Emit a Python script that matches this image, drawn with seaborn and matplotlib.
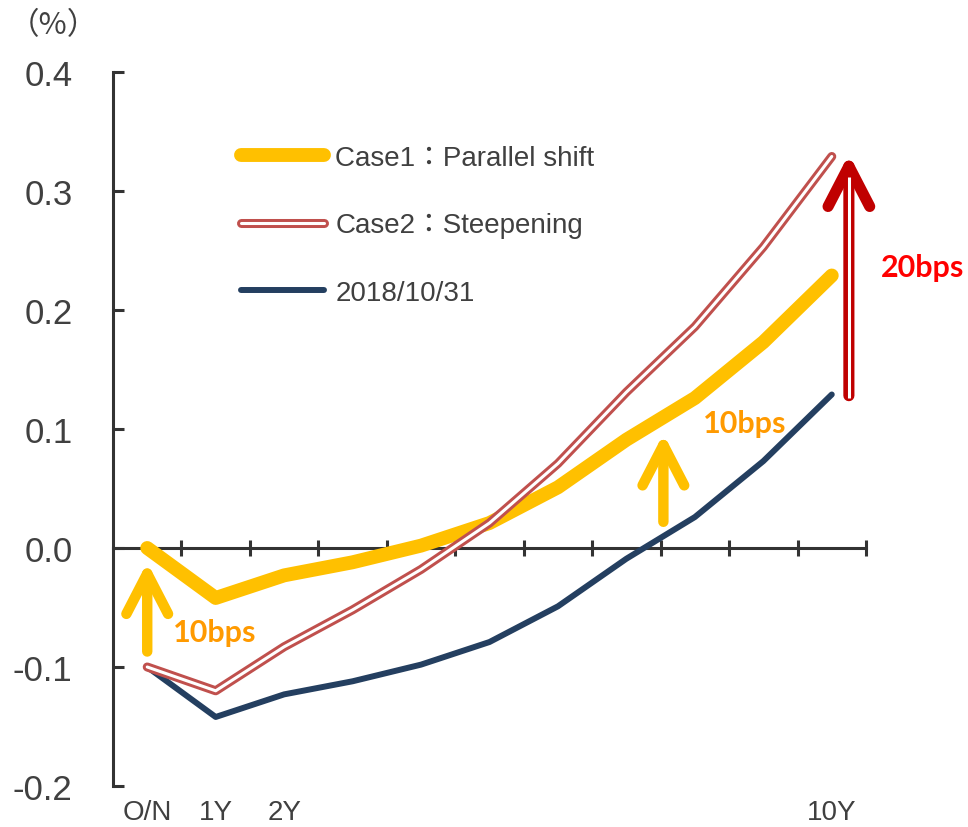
import numpy as np
import pandas as pd
import matplotlib.pyplot as plt
import seaborn as sns
from matplotlib.lines import Line2D
from matplotlib.legend_handler import HandlerTuple
from matplotlib import transforms

# Yield curve data (%)
tenors = ["O/N", "1Y", "2Y", "3Y", "4Y", "5Y", "6Y", "7Y", "8Y", "9Y", "10Y"]
shown_labels = ["O/N", "1Y", "2Y", "10Y"]
base_2018 = [-0.100, -0.142, -0.123, -0.112, -0.098, -0.079, -0.049, -0.009, 0.026, 0.073, 0.129]
case1_parallel = [0.000, -0.042, -0.023, -0.012, 0.002, 0.021, 0.051, 0.091, 0.126, 0.173, 0.229]
case2_steep = [-0.100, -0.120, -0.083, -0.052, -0.018, 0.021, 0.071, 0.131, 0.186, 0.253, 0.329]
ytick_values = [-0.2, -0.1, 0.0, 0.1, 0.2, 0.3, 0.4]

df = pd.DataFrame({"tenor": tenors, "pos": np.arange(len(tenors)),
                   "base": base_2018, "case1": case1_parallel, "case2": case2_steep})

sns.set_style("white")
plt.rcParams["font.family"] = ["Liberation Sans", "Noto Sans CJK JP"]

YELLOW = "#FFC000"
RED_LINE = "#C0504D"
NAVY = "#243F60"
AXIS = "#333333"
TEXT = "#404040"

fig = plt.figure(figsize=(9.68, 8.28), dpi=100)
ax = fig.add_axes([113 / 968, 1 - 787 / 828, 753 / 968, 714 / 828])

# series
sns.lineplot(data=df, x="pos", y="base", ax=ax, color=NAVY, lw=4.3, zorder=3,
             solid_capstyle="round", solid_joinstyle="round")
sns.lineplot(data=df, x="pos", y="case1", ax=ax, color=YELLOW, lw=10, zorder=4,
             solid_capstyle="round", solid_joinstyle="round")
sns.lineplot(data=df, x="pos", y="case2", ax=ax, color=RED_LINE, lw=6.5, zorder=5,
             solid_capstyle="round", solid_joinstyle="round")
sns.lineplot(data=df, x="pos", y="case2", ax=ax, color="white", lw=2.2, zorder=6,
             solid_capstyle="round", solid_joinstyle="round")

# axes styling
ax.set_xlim(-0.5, 10.5)
ax.set_ylim(-0.2, 0.4)
ax.set_xlabel("")
ax.set_ylabel("")
for s in ["top", "right"]:
    ax.spines[s].set_visible(False)
ax.spines["bottom"].set_position(("data", 0))
for s in ["left", "bottom"]:
    ax.spines[s].set_color(AXIS)
    ax.spines[s].set_linewidth(2.2)
    ax.spines[s].set_zorder(2)

ax.set_xticks(np.arange(0.5, 10.6, 1.0))
ax.tick_params(axis="x", bottom=True, direction="inout", length=11, width=2.2,
               color=AXIS, labelbottom=False)
ax.set_yticks(ytick_values)
ax.set_yticklabels([f"{v:.1f}" for v in ytick_values])
ax.tick_params(axis="y", left=True, direction="in", length=8, width=2.2, color=AXIS,
               labelsize=25, labelcolor=TEXT, pad=29)

# category labels below the plot
lab_tr = transforms.offset_copy(ax.transData, fig=fig, x=0, y=-33, units="dots")
for lab in shown_labels:
    ax.text(tenors.index(lab), -0.2, lab, transform=lab_tr, ha="center",
            va="baseline", fontsize=20, color=TEXT)

fig.text(53 / 968, 1 - 26 / 828, "（%）", ha="center", va="center",
         fontsize=22, color=TEXT, family=["Noto Sans CJK JP"])

# arrows
ax.annotate("", xy=(0, -0.012), xytext=(0, -0.087),
            arrowprops=dict(arrowstyle="->,head_length=1.45,head_width=0.75",
                            color=YELLOW, lw=7.5, capstyle="round", joinstyle="round",
                            shrinkA=0, shrinkB=0, mutation_scale=20))
ax.annotate("", xy=(7.54, 0.096), xytext=(7.54, 0.022),
            arrowprops=dict(arrowstyle="->,head_length=1.45,head_width=0.75",
                            color=YELLOW, lw=7.5, capstyle="round", joinstyle="round",
                            shrinkA=0, shrinkB=0, mutation_scale=20))
ax.annotate("", xy=(10.25, 0.331), xytext=(10.25, 0.128), annotation_clip=False,
            arrowprops=dict(arrowstyle="->,head_length=1.45,head_width=0.75",
                            color="#C00000", lw=8, capstyle="round", joinstyle="round",
                            shrinkA=0, shrinkB=0, mutation_scale=20))
ax.plot([10.25, 10.25], [0.126, 0.312], color="white", lw=2.2, zorder=10, clip_on=False,
        solid_capstyle="butt")

ax.text(0.98, -0.071, "10bps", ha="center", va="center", fontsize=22,
        fontweight="bold", color="#FF9A00", family=["Lato"])
ax.text(8.73, 0.105, "10bps", ha="center", va="center", fontsize=22,
        fontweight="bold", color="#FF9A00", family=["Lato"])
ax.text(11.33, 0.236, "20bps", ha="center", va="center", fontsize=22,
        fontweight="bold", color="#FF0000", family=["Lato"], clip_on=False)

# legend
h1 = Line2D([], [], color=YELLOW, lw=10, solid_capstyle="round")
h2a = Line2D([], [], color=RED_LINE, lw=6.5, solid_capstyle="round")
h2b = Line2D([], [], color="white", lw=2.2, solid_capstyle="round")
h3 = Line2D([], [], color=NAVY, lw=4.3, solid_capstyle="round")
leg = ax.legend([h1, (h2a, h2b), h3],
                ["Case1：Parallel shift", "Case2：Steepening", "2018/10/31"],
                handler_map={tuple: HandlerTuple(ndivide=1, pad=0)},
                loc="upper left", bbox_to_anchor=(0.17, 0.898), frameon=False,
                fontsize=20, handlelength=3.0, handletextpad=0.4,
                labelspacing=1.5, borderpad=0, borderaxespad=0)
for t in leg.get_texts():
    t.set_color(TEXT)

fig.savefig("out.png", dpi=100)
